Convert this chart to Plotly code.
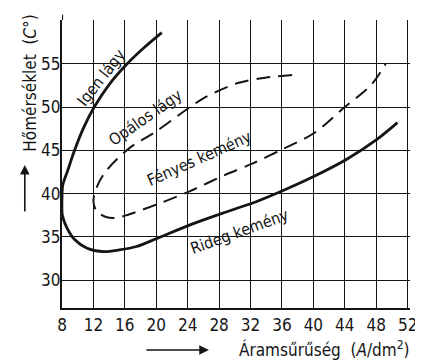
import plotly.graph_objects as go

# ---- data ----
igen_x = [8.0, 8.1, 8.7, 9.6, 10.7, 12.1, 14.0, 16.3, 18.5, 20.7]
igen_y = [39.5, 41.0, 42.6, 45.0, 47.5, 50.0, 52.6, 55.0, 56.9, 58.6]

rideg_x = [8.0, 8.05, 8.55, 9.6, 11.2, 13.3, 15.3, 17.5, 20.0, 24.3, 28.6, 32.8, 36.0, 40.1, 44.3, 48.0, 50.7]
rideg_y = [39.5, 37.5, 36.2, 34.7, 33.7, 33.3, 33.5, 33.9, 34.8, 36.4, 37.8, 39.1, 40.3, 42.0, 44.0, 46.2, 48.2]

opalos_x = [37.3, 34.0, 30.5, 26.0, 20.0, 16.5, 13.6, 12.4, 12.0]
opalos_y = [53.7, 53.4, 52.8, 51.0, 47.2, 45.2, 42.6, 40.7, 39.1]

fenyes_x = [12.0, 12.4, 13.6, 14.9, 16.5, 20.2, 24.3, 28.6, 32.3, 36.0, 40.1, 44.0, 47.4, 49.2]
fenyes_y = [39.1, 38.0, 37.3, 37.2, 37.6, 38.8, 40.3, 42.1, 43.5, 45.1, 47.0, 50.0, 52.6, 55.0]

x_ticks = [8, 12, 16, 20, 24, 28, 32, 36, 40, 44, 48, 52]
x_ticktext = [str(v) for v in x_ticks]
y_ticks = [30, 35, 40, 45, 50, 55, 60]
y_ticktext = ["30", "35", "40", "45", "50", "55", ""]

labels = ["Igen lágy", "Opálos lágy", "Fényes kemény", "Rideg kemény"]
label_x = [13.0, 18.6, 25.4, 30.6]
label_y = [53.4, 48.8, 44.1, 35.6]
label_angle = [-52, -35, -24, -20]

FONT = "Liberation Sans Narrow, DejaVu Sans Condensed, Arial Narrow, sans-serif"
INK = "#151515"

# the page has an 8px body margin, so the figure is 8px smaller each way
W, H = 415, 352

fig = go.Figure()
solid_x = igen_x[::-1] + rideg_x[1:]
solid_y = igen_y[::-1] + rideg_y[1:]
dash_x = opalos_x + fenyes_x[1:]
dash_y = opalos_y + fenyes_y[1:]
fig.add_trace(go.Scatter(x=solid_x, y=solid_y, mode="lines",
                         line=dict(color=INK, width=2.8, shape="spline", smoothing=0.9),
                         hoverinfo="skip", showlegend=False))
fig.add_trace(go.Scatter(x=dash_x, y=dash_y, mode="lines",
                         line=dict(color=INK, width=2.0, dash="14px,8px", shape="spline", smoothing=0.9),
                         hoverinfo="skip", showlegend=False))

for t, lx, ly, a in zip(labels, label_x, label_y, label_angle):
    fig.add_annotation(x=lx, y=ly, xref="x", yref="y", text=t, textangle=a,
                       showarrow=False, xanchor="center", yanchor="middle",
                       font=dict(family=FONT, size=16, color=INK))

# plot area in figure pixels
PL, PR, PT, PB = 54, 409.4, 12, 300
def px(xp):
    return (xp - 8 - PL) / (PR - PL)
def py(yp):
    return (PB - (yp - 8)) / (PB - PT)

# axis titles (positions given in page pixels)
fig.add_annotation(x=px(29), y=py(83), xref="paper", yref="paper",
                   xanchor="center", yanchor="middle",
                   text="Hőmérséklet  (<i>C</i>°)", textangle=-90, showarrow=False,
                   font=dict(family=FONT, size=17, color=INK))
fig.add_annotation(x=px(330), y=py(349), xref="paper", yref="paper",
                   xanchor="center", yanchor="middle",
                   text="Áramsűrűség  (<i>A</i>/dm<sup>2</sup>)", showarrow=False,
                   font=dict(family=FONT, size=17, color=INK))
# arrows
fig.add_annotation(x=px(24), y=py(165), xref="paper", yref="paper", text="",
                   showarrow=True, ax=0, ay=48, arrowhead=2, arrowsize=1.2,
                   arrowwidth=1.6, arrowcolor=INK)
fig.add_annotation(x=px(212), y=py(350), xref="paper", yref="paper", text="",
                   showarrow=True, ax=-64, ay=0, arrowhead=2, arrowsize=1.2,
                   arrowwidth=1.6, arrowcolor=INK)

# left axis sticks out a little above the frame
fig.add_shape(type="line", xref="x", yref="paper", x0=8, x1=8, y0=1, y1=1.018,
              line=dict(color=INK, width=2.2))

fig.update_xaxes(range=[8, 52.3], tickvals=x_ticks, ticktext=x_ticktext,
                 showgrid=True, gridcolor=INK, gridwidth=1.2,
                 showline=True, linecolor=INK, linewidth=2.4,
                 zeroline=False, ticks="", ticklabelstandoff=0,
                 ticklabeloverflow="allow",
                 tickfont=dict(family=FONT, size=17, color=INK), fixedrange=True)
fig.update_yaxes(range=[26.8, 60.05], tickvals=y_ticks, ticktext=y_ticktext,
                 showgrid=True, gridcolor=INK, gridwidth=1.2,
                 showline=True, linecolor=INK, linewidth=2.4,
                 zeroline=False, ticks="", ticklabelstandoff=-4,
                 tickfont=dict(family=FONT, size=17, color=INK), fixedrange=True)

fig.update_layout(width=W, height=H,
                  margin=dict(l=PL, r=W - PR, t=PT, b=H - PB),
                  paper_bgcolor="white", plot_bgcolor="white")

fig.write_html("out.html", config={"displayModeBar": False})
